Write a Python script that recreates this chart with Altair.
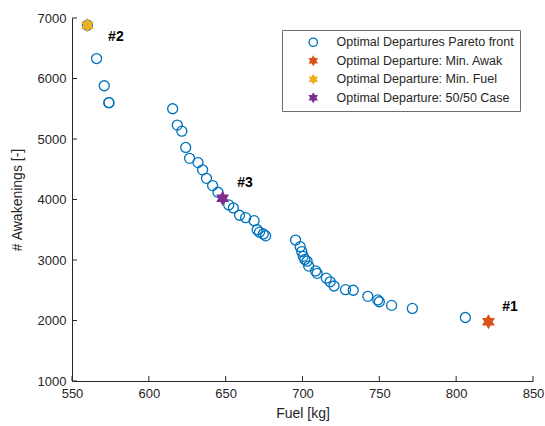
import altair as alt
import pandas as pd

# Pareto front points (Fuel [kg], # Awakenings)
pareto_fuel = [560, 566, 571, 574, 574, 615.5, 618.5, 621.5, 624, 626.5, 632, 635, 637.5, 641.5,
               645, 652, 655, 659, 663, 668.5, 670.5, 672, 674.5, 676, 695.5, 698.5, 699.5, 700.5,
               701.5, 703, 704, 708.5, 709.5, 715.5, 718, 720.5, 728, 733, 742.5, 749, 750,
               758, 771.5, 806]
pareto_awak = [6880, 6330, 5880, 5600, 5600, 5500, 5230, 5130, 4860, 4680, 4610, 4490, 4350, 4230,
               4120, 3910, 3860, 3740, 3700, 3650, 3500, 3460, 3430, 3400, 3330, 3220, 3140, 3060,
               3010, 2980, 2900, 2820, 2780, 2700, 2640, 2570, 2510, 2500, 2400, 2340, 2310,
               2250, 2200, 2050]

series_names = ["Optimal Departures Pareto front", "Optimal Departure: Min. Awak",
                "Optimal Departure: Min. Fuel", "Optimal Departure: 50/50 Case"]
special_fuel = [821, 560, 648]
special_awak = [1980, 6880, 4020]

label_text = ["#1", "#2", "#3"]
label_fuel = [830, 573.5, 657.5]
label_awak = [2230, 6680, 4270]

x_ticks = [550, 600, 650, 700, 750, 800, 850]
y_ticks = [1000, 2000, 3000, 4000, 5000, 6000, 7000]

colors_stroke = ["#0072BD", "#D95319", "#EDB120", "#7E2F8E"]
colors_fill = ["rgba(0,0,0,0)", "#D95319", "#EDB120", "#7E2F8E"]
hexagram = "M0,-1L0.289,-0.5L0.866,-0.5L0.577,0L0.866,0.5L0.289,0.5L0,1L-0.289,0.5L-0.866,0.5L-0.577,0L-0.866,-0.5L-0.289,-0.5Z"
shapes = ["circle", hexagram, hexagram, hexagram]

rows = [{"fuel": f, "awak": a, "series": series_names[0]} for f, a in zip(pareto_fuel, pareto_awak)]
for i, (f, a) in enumerate(zip(special_fuel, special_awak)):
    rows.append({"fuel": f, "awak": a, "series": series_names[i + 1]})
df = pd.DataFrame(rows)
df["order"] = range(len(df))

W, H = 461, 363
xscale = alt.Scale(domain=[550, 850], nice=False, zero=False, padding=0)
yscale = alt.Scale(domain=[1000, 7000], nice=False, zero=False, padding=0)
FONT = "Liberation Sans"

points = alt.Chart(df).mark_point(strokeWidth=1.3, opacity=1).encode(
    x=alt.X("fuel:Q", scale=xscale,
            axis=alt.Axis(values=x_ticks, format="d", title="Fuel [kg]", ticks=False, grid=False,
                          labelFlush=False, labelOverlap=False,
                          labelFontSize=13, titleFontSize=14, titleFontWeight="normal",
                          labelPadding=6, titlePadding=6, domainColor="#262626",
                          labelColor="#262626", titleColor="#262626", labelFont=FONT, titleFont=FONT)),
    y=alt.Y("awak:Q", scale=yscale,
            axis=alt.Axis(values=y_ticks, format="d", title="# Awakenings [-]", ticks=False, grid=False,
                          labelFlush=False, labelOverlap=False,
                          labelFontSize=13, titleFontSize=14, titleFontWeight="normal",
                          labelPadding=6, titlePadding=13, domainColor="#262626",
                          labelColor="#262626", titleColor="#262626", labelFont=FONT, titleFont=FONT)),
    stroke=alt.Stroke("series:N", scale=alt.Scale(domain=series_names, range=colors_stroke), title=None),
    fill=alt.Fill("series:N", scale=alt.Scale(domain=series_names, range=colors_fill), title=None),
    shape=alt.Shape("series:N", scale=alt.Scale(domain=series_names, range=shapes), title=None),
    size=alt.condition(alt.datum.series == series_names[0], alt.value(100), alt.value(150)),
    order=alt.Order("order:Q"),
)

xt = alt.Chart(pd.DataFrame({"v": x_ticks})).mark_rule(color="#262626", strokeWidth=1).encode(
    x=alt.X("v:Q", scale=xscale), y=alt.value(H), y2=alt.value(H - 5))
yt = alt.Chart(pd.DataFrame({"v": y_ticks})).mark_rule(color="#262626", strokeWidth=1).encode(
    y=alt.Y("v:Q", scale=yscale), x=alt.value(0), x2=alt.value(5))

labels = alt.Chart(pd.DataFrame({"fuel": label_fuel, "awak": label_awak, "t": label_text})).mark_text(
    align="left", baseline="middle", fontSize=14, fontWeight="bold", font=FONT, color="black"
).encode(x=alt.X("fuel:Q", scale=xscale), y=alt.Y("awak:Q", scale=yscale), text="t:N")

chart = alt.layer(points, xt, yt, labels).properties(
    width=W, height=H,
    autosize=alt.AutoSizeParams(type="none"),
    padding={"left": 72, "top": 18, "right": 12, "bottom": 45},
).configure_view(stroke=None).configure_legend(
    orient="none", legendX=210, legendY=12,
    fillColor="white", strokeColor="#6e6e6e", padding=6,
    labelFontSize=12.5, labelFont=FONT, labelColor="#262626", labelLimit=0,
    symbolSize=70, symbolStrokeWidth=1.3, symbolOffset=19, labelOffset=17,
    rowPadding=3.5, cornerRadius=0,
)

chart.save("out.html", embed_options={"renderer": "svg", "actions": False})
